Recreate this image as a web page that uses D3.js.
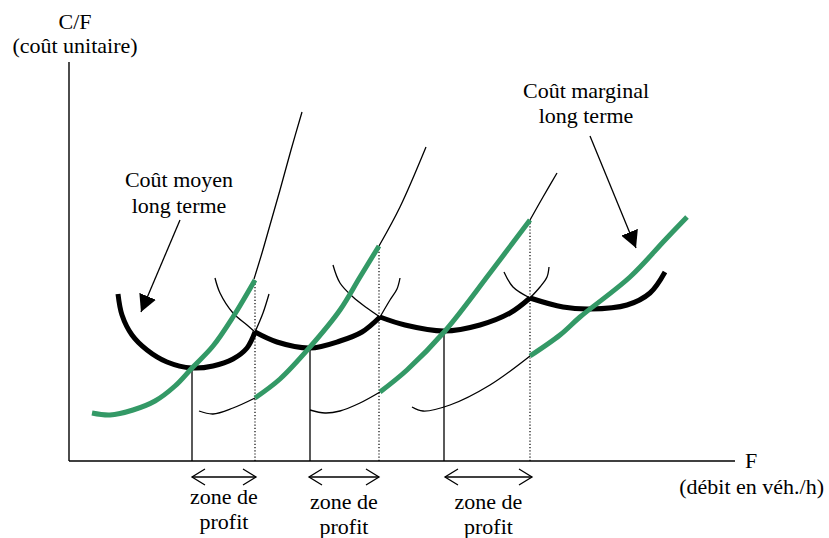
<!DOCTYPE html>
<html>
<head>
<meta charset="utf-8">
<script src="https://cdn.jsdelivr.net/npm/d3@7"></script>
<style>
  html, body { margin: 0; padding: 0; background: #fff; }
  svg text { font-family: "Liberation Serif", "DejaVu Serif", serif; }
</style>
</head>
<body>
<svg id="chart" width="829" height="538"></svg>
<script>

// coût moyen long terme (enveloppe épaisse), un tronçon par usine
const lrac = [
  [[49,167],[53,146],[63,126],[78,111],[98,99],[123,93],[144,95],[164,102],[178,113],[186,129]],
  [[186,129],[208,119],[241,113],[271,120],[293,129],[311,144]],
  [[311,144],[336,136],[375,130],[411,136],[441,148],[461,163]],
  [[461,163],[494,154],[521,152],[558,156],[581,168],[596,189]]
];

// prolongements fins des coûts moyens court terme
const sracStubs = [
  [[186,129],[194,148],[200,167]],
  [[146,183],[151,168],[164,148],[178,136],[186,129]],
  [[311,144],[321,161],[328,172],[331,183]],
  [[264,196],[271,178],[284,164],[298,153],[311,144]],
  [[461,163],[471,174],[478,184],[480,194]],
  [[435,189],[444,174],[461,163]]
];

// coût marginal long terme (vert)
const lrmc = [
  [[23,48],[41,46],[64,51],[86,60],[106,75],[123,93],[144,115],[164,144],[186,181]],
  [[186,63],[211,82],[241,114],[271,151],[291,184],[310,215]],
  [[311,69],[338,91],[376,130],[421,188],[461,241]],
  [[461,105],[491,126],[511,144],[561,184],[596,221],[618,244]]
];

// coûts marginaux court terme, parties fines
const srmcStubs = [
  [[185,182],[193,208],[201,236],[211,271],[222,311],[233,349]],
  [[130,50],[144,47],[164,53],[186,63]],
  [[310,215],[331,254],[357,314]],
  [[241,51],[256,48],[271,50],[291,58],[311,69]],
  [[461,241],[474,264],[488,288]],
  [[343,54],[354,50],[381,56],[421,76],[461,105]]
];

// minimum des coûts moyens (traits pleins) et limite des zones (pointillés)
const minPoints = [[123,93],[241,113],[375,130]];
const capPoints = [[186,181],[310,215],[461,241]];
const profitZones = [[123,187],[240,310],[376,463]];

const labelMoyen = ["Coût moyen", "long terme"];
const labelMarginal = ["Coût marginal", "long terme"];
const zoneLabel = ["zone de", "profit"];
const yTitle = ["C/F", "(coût unitaire)"];
const xTitle = ["F", "(débit en véh./h)"];

const GREEN = "#339966";
const FONT = "'Liberation Serif', 'DejaVu Serif', serif";

const svg = d3.select("#chart");
const x = d3.scaleLinear().domain([0, 700]).range([69, 769]);
const y = d3.scaleLinear().domain([0, 400]).range([461, 61]);

const line = d3.line()
  .x(d => x(d[0]))
  .y(d => y(d[1]))
  .curve(d3.curveCatmullRom.alpha(0.5));

// marqueurs de flèches
const defs = svg.append("defs");
defs.append("marker")
  .attr("id", "head")
  .attr("markerUnits", "userSpaceOnUse")
  .attr("viewBox", "0 0 17 18")
  .attr("markerWidth", 17).attr("markerHeight", 18)
  .attr("refX", 17).attr("refY", 9)
  .attr("orient", "auto")
  .append("path").attr("d", "M0,0 L17,9 L0,18 Z").attr("fill", "#000");

defs.append("marker")
  .attr("id", "chevron")
  .attr("markerUnits", "userSpaceOnUse")
  .attr("viewBox", "-1 -1 16 20")
  .attr("markerWidth", 16).attr("markerHeight", 20)
  .attr("refX", 13).attr("refY", 9)
  .attr("orient", "auto-start-reverse")
  .append("path").attr("d", "M0,1 L13,9 L0,17")
  .attr("fill", "none").attr("stroke", "#000").attr("stroke-width", 1.3);

// axes
svg.append("line")
  .attr("x1", x(0)).attr("y1", y(0)).attr("x2", x(0)).attr("y2", y(399))
  .attr("stroke", "#000").attr("stroke-width", 1.4);
svg.append("line")
  .attr("x1", x(0)).attr("y1", y(0)).attr("x2", x(666)).attr("y2", y(0))
  .attr("stroke", "#000").attr("stroke-width", 1.4);

// verticales
svg.selectAll(".vmin").data(minPoints).enter().append("line")
  .attr("x1", d => x(d[0])).attr("x2", d => x(d[0]))
  .attr("y1", y(0)).attr("y2", d => y(d[1]))
  .attr("stroke", "#000").attr("stroke-width", 1.3);
svg.selectAll(".vcap").data(capPoints).enter().append("line")
  .attr("x1", d => x(d[0])).attr("x2", d => x(d[0]))
  .attr("y1", y(0)).attr("y2", d => y(d[1]))
  .attr("stroke", "#000").attr("stroke-width", 1.2)
  .attr("stroke-dasharray", "1.2,2");

// courbes fines
svg.selectAll(".srac").data(sracStubs).enter().append("path")
  .attr("d", line).attr("fill", "none")
  .attr("stroke", "#000").attr("stroke-width", 1.3);
svg.selectAll(".srmc").data(srmcStubs).enter().append("path")
  .attr("d", line).attr("fill", "none")
  .attr("stroke", "#000").attr("stroke-width", 1.3);

// courbes épaisses
svg.selectAll(".lrac").data(lrac).enter().append("path")
  .attr("d", line).attr("fill", "none")
  .attr("stroke", "#000").attr("stroke-width", 5)
  .attr("stroke-linejoin", "round");
svg.selectAll(".lrmc").data(lrmc).enter().append("path")
  .attr("d", line).attr("fill", "none")
  .attr("stroke", GREEN).attr("stroke-width", 5);

// flèches des étiquettes
svg.append("line")
  .attr("x1", x(111)).attr("y1", y(241)).attr("x2", x(72)).attr("y2", y(149))
  .attr("stroke", "#000").attr("stroke-width", 1.3)
  .attr("marker-end", "url(#head)");
svg.append("line")
  .attr("x1", x(521)).attr("y1", y(325)).attr("x2", x(567)).attr("y2", y(213))
  .attr("stroke", "#000").attr("stroke-width", 1.3)
  .attr("marker-end", "url(#head)");

// zones de profit
svg.selectAll(".zone").data(profitZones).enter().append("line")
  .attr("x1", d => x(d[0])).attr("x2", d => x(d[1]))
  .attr("y1", y(-16)).attr("y2", y(-16))
  .attr("stroke", "#000").attr("stroke-width", 1.3)
  .attr("marker-start", "url(#chevron)")
  .attr("marker-end", "url(#chevron)");

const zoneText = svg.selectAll(".ztext").data(profitZones).enter().append("text")
  .attr("font-family", FONT)
  .attr("text-anchor", "middle")
  .attr("font-size", 22);
zoneText.append("tspan")
  .attr("x", d => x((d[0] + d[1]) / 2))
  .attr("y", (d, i) => i === 0 ? 504 : 509)
  .text(zoneLabel[0]);
zoneText.append("tspan")
  .attr("x", d => x((d[0] + d[1]) / 2))
  .attr("y", (d, i) => i === 0 ? 529 : 534)
  .text(zoneLabel[1]);

// textes
function block(lines, cx, y0, dy, anchor) {
  const t = svg.append("text").attr("font-family", FONT)
    .attr("font-size", 22).attr("text-anchor", anchor || "middle");
  lines.forEach((s, i) => t.append("tspan").attr("x", cx).attr("y", y0 + i * dy).text(s));
}
block(yTitle, 75, 29, 24);
block(labelMoyen, 179, 187, 26);
block(labelMarginal, 586, 98, 25);
svg.append("text").attr("font-family", FONT).attr("font-size", 22)
  .attr("x", 745).attr("y", 468).text(xTitle[0]);
svg.append("text").attr("font-family", FONT).attr("font-size", 22)
  .attr("text-anchor", "end").attr("x", 824).attr("y", 494).text(xTitle[1]);
</script>
</body>
</html>
